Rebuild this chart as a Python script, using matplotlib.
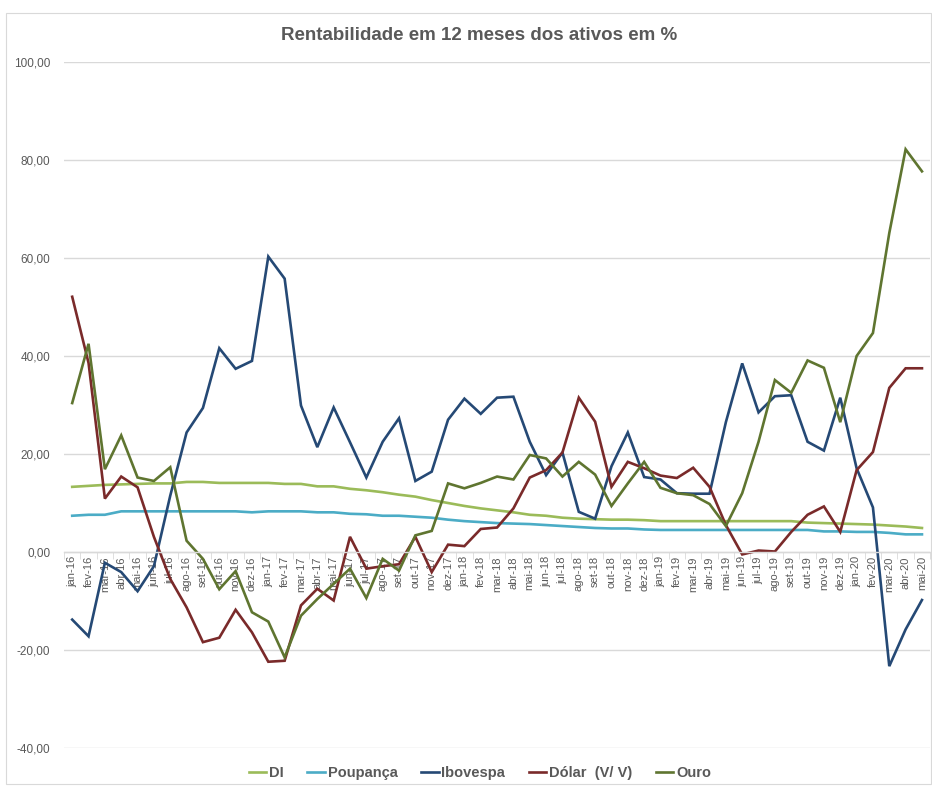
import matplotlib
matplotlib.use("Agg")
import matplotlib.pyplot as plt
from matplotlib.patches import Rectangle
from matplotlib.ticker import FixedLocator, FuncFormatter

# months jan-16 .. mai-20
meses = ["jan", "fev", "mar", "abr", "mai", "jun", "jul", "ago", "set", "out", "nov", "dez"]
labels = [f"{m}-{a}" for a in ("16", "17", "18", "19") for m in meses] + \
         [f"{m}-20" for m in meses[:5]]

di = [13.3, 13.5, 13.7, 13.8, 13.9, 14.0, 14.0, 14.3, 14.3, 14.1, 14.1, 14.1,
      14.1, 13.9, 13.9, 13.4, 13.4, 12.9, 12.6, 12.2, 11.7, 11.3, 10.6, 10.0,
      9.4, 8.9, 8.5, 8.1, 7.6, 7.4, 7.0, 6.8, 6.7, 6.6, 6.6, 6.5,
      6.3, 6.3, 6.3, 6.3, 6.3, 6.3, 6.3, 6.3, 6.3, 6.0, 5.9, 5.8,
      5.7, 5.6, 5.4, 5.2, 4.9]
poupanca = [7.4, 7.6, 7.6, 8.3, 8.3, 8.3, 8.3, 8.3, 8.3, 8.3, 8.3, 8.1,
            8.3, 8.3, 8.3, 8.1, 8.1, 7.8, 7.7, 7.4, 7.4, 7.2, 7.0, 6.6,
            6.3, 6.1, 5.9, 5.8, 5.7, 5.5, 5.3, 5.1, 4.9, 4.8, 4.8, 4.6,
            4.5, 4.5, 4.5, 4.5, 4.5, 4.5, 4.5, 4.5, 4.5, 4.5, 4.2, 4.2,
            4.1, 4.1, 3.9, 3.6, 3.6]
ibovespa = [-13.8, -17.2, -2.2, -4.1, -8.0, -2.9, 11.5, 24.4, 29.4, 41.6, 37.4, 39.0,
            60.3, 55.8, 29.9, 21.4, 29.5, 22.4, 15.2, 22.5, 27.3, 14.5, 16.4, 27.0,
            31.3, 28.2, 31.5, 31.7, 22.5, 15.7, 20.3, 8.2, 6.8, 17.5, 24.4, 15.3,
            14.8, 12.0, 11.9, 11.9, 26.5, 38.5, 28.5, 31.8, 32.0, 22.5, 20.7, 31.5,
            17.1, 9.1, -23.3, -15.8, -9.8]
dolar = [52.1, 38.6, 10.9, 15.4, 13.2, 3.1, -5.5, -11.3, -18.4, -17.5, -11.8, -16.4,
         -22.4, -22.2, -10.9, -7.5, -9.9, 3.1, -3.4, -2.9, -2.5, 3.1, -4.1, 1.5,
         1.2, 4.7, 5.0, 8.9, 15.2, 16.7, 20.3, 31.5, 26.6, 13.3, 18.4, 17.1,
         15.6, 15.1, 17.2, 13.3, 5.5, -0.5, 0.3, 0.1, 4.1, 7.6, 9.3, 4.1,
         16.7, 20.4, 33.5, 37.5, 37.5]
ouro = [30.4, 42.5, 16.9, 23.8, 15.2, 14.5, 17.3, 2.3, -1.4, -7.6, -3.9, -12.3,
        -14.2, -21.5, -13.0, -9.6, -6.5, -3.4, -9.4, -1.4, -3.8, 3.4, 4.3, 14.0,
        13.0, 14.1, 15.4, 14.8, 19.8, 19.1, 15.4, 18.4, 15.8, 9.4, 14.0, 18.4,
        13.1, 12.0, 11.6, 9.8, 5.3, 12.0, 22.5, 35.1, 32.5, 39.1, 37.6, 26.5,
        40.0, 44.7, 65.1, 82.2, 77.7]

series = [
    ("DI", di, "#9bbb59"),
    ("Poupança", poupanca, "#4bacc6"),
    ("Ibovespa", ibovespa, "#254975"),
    ("Dólar  (V/ V)", dolar, "#7a2a2a"),
    ("Ouro", ouro, "#5f7530"),
]

FONT = ["Liberation Sans Narrow", "Liberation Sans", "DejaVu Sans"]
GREY = "#595959"

fig = plt.figure(figsize=(9.32, 7.87), dpi=100)
fig.patches.append(Rectangle((0.006, 0.004), 0.993, 0.98, transform=fig.transFigure,
                             fill=False, edgecolor="#d9d9d9", linewidth=0.8))
ax = fig.add_axes([0.0687, 0.0496, 0.9293, 0.8715])

x = list(range(len(labels)))
for name, vals, color in series:
    ax.plot(x, vals, color=color, linewidth=1.9, label=name, solid_joinstyle="miter")

ax.set_xlim(-0.5, len(labels) - 0.5)
ax.set_ylim(-40, 100)
ax.set_yticks(range(-40, 101, 20))
ax.yaxis.set_major_formatter(FuncFormatter(lambda v, _: f"{v:,.2f}".replace(".", ",")))
ax.grid(axis="y", color="#d9d9d9", linewidth=1.0)
ax.set_axisbelow(True)
for s in ("top", "right", "left"):
    ax.spines[s].set_visible(False)
ax.spines["bottom"].set_position(("data", 0))
ax.spines["bottom"].set_color("#d9d9d9")
ax.spines["bottom"].set_linewidth(1.0)

ax.set_xticks(x)
ax.set_xticklabels(labels, rotation=90, fontsize=8, color=GREY, family=FONT)
ax.tick_params(axis="x", which="major", length=0, pad=3)
ax.xaxis.set_minor_locator(FixedLocator([i - 0.5 for i in range(len(labels) + 1)]))
ax.tick_params(axis="x", which="minor", length=5, color="#d9d9d9")
ax.tick_params(axis="y", length=0, pad=10)
for t in ax.get_yticklabels():
    t.set_fontsize(8.5)
    t.set_color(GREY)
    t.set_family(FONT)

fig.text(0.514, 0.955, "Rentabilidade em 12 meses dos ativos em %", ha="center", va="center",
         fontsize=13.5, fontweight="bold", color=GREY, family=FONT)

leg = fig.legend(loc="center", bbox_to_anchor=(0.515, 0.018), ncol=5, frameon=False,
                 handlelength=1.2, handletextpad=0.2, columnspacing=1.6,
                 prop={"family": FONT, "size": 10.5, "weight": "bold"})
for t in leg.get_texts():
    t.set_color(GREY)

fig.savefig("out.png", dpi=100)
